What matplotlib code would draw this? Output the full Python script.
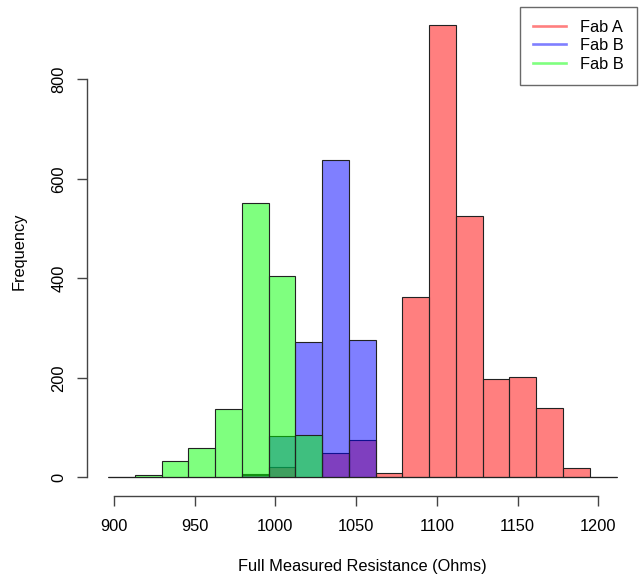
import numpy as np
import matplotlib.pyplot as plt

plt.rcParams['font.family'] = ['Liberation Sans', 'DejaVu Sans']

# histogram breaks (common to all three fabs)
bin_start = 896.3
bin_width = 16.58
n_bins = 19

# counts per bin
fab_a = [0, 0, 0, 0, 0, 7, 21, 0, 49, 75, 8, 362, 910, 525, 197, 202, 139, 19, 0]
fab_b = [0, 0, 0, 0, 0, 4, 83, 273, 637, 277, 0, 0, 0, 0, 0, 0, 0, 0, 0]
fab_c = [0, 5, 33, 60, 137, 551, 405, 85, 0, 0, 0, 0, 0, 0, 0, 0, 0, 0, 0]

labels = ["Fab A", "Fab B", "Fab B"]
colors = [(1, 0, 0, 0.5), (0, 0, 1, 0.5), (0, 1, 0, 0.5)]

edges = bin_start + bin_width * np.arange(n_bins + 1)
fs = 11.8

fig = plt.figure(figsize=(6.42, 5.76), dpi=100)
ax = fig.add_axes([87.3 / 642, 1 - 495.5 / 576, 549.4 / 642, 489 / 576])

for counts, col in zip([fab_a, fab_b, fab_c], colors):
    ax.bar(edges[:-1], counts, width=np.diff(edges), align='edge',
           color=col, edgecolor='#222222', linewidth=0.8)

ax.set_xlim(883.5, 1223.8)
ax.set_ylim(-36.4, 946.4)

for s in ['top', 'right']:
    ax.spines[s].set_visible(False)
ax.spines['left'].set_bounds(0, 800)
ax.spines['bottom'].set_bounds(900, 1200)
for s in ['left', 'bottom']:
    ax.spines[s].set_color('#444444')
    ax.spines[s].set_linewidth(1.0)

ax.set_xticks([900, 950, 1000, 1050, 1100, 1150, 1200])
ax.set_yticks([0, 200, 400, 600, 800])
ax.tick_params(axis='both', length=7.2, width=1.0, color='#444444', labelsize=fs)
ax.tick_params(axis='x', pad=10)
ax.tick_params(axis='y', pad=8)
for t in ax.get_yticklabels():
    t.set_rotation(90)
    t.set_va('center')

ax.set_xlabel("Full Measured Resistance (Ohms)", fontsize=fs, va='center')
ax.xaxis.set_label_coords(0.5, -0.1442)
ax.set_ylabel("Frequency", fontsize=fs, va='center')
ax.yaxis.set_label_coords(-0.1249, 0.5)

handles = [plt.Line2D([], [], color=c, lw=1.9) for c in colors]
leg = ax.legend(handles, labels, loc='upper right', borderaxespad=0,
                fontsize=fs, frameon=True, fancybox=False,
                handlelength=2.0, handletextpad=0.85, borderpad=0.8,
                labelspacing=0.22)
leg.get_frame().set_edgecolor('#444444')
leg.get_frame().set_linewidth(1.0)

fig.savefig("out.png", dpi=100)
